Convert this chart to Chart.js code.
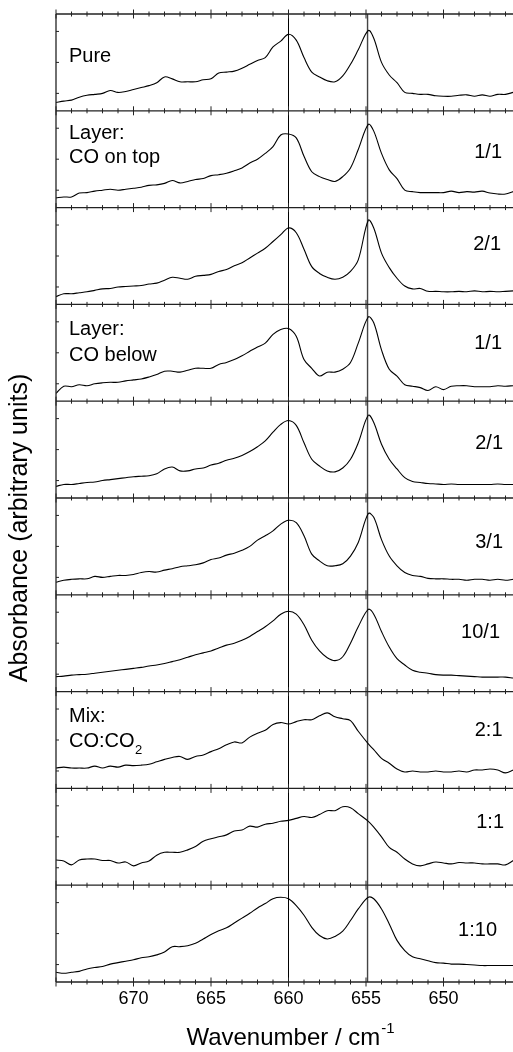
<!DOCTYPE html>
<html><head><meta charset="utf-8">
<script src="https://cdn.jsdelivr.net/npm/chart.js@4"></script>
<style>
html,body{margin:0;padding:0;background:#fff;overflow:hidden;width:513px;height:1052px}
#wrap{position:absolute;left:0;top:0;width:540px;height:1052px}
</style></head>
<body><div id="wrap"><canvas id="c" width="540" height="1052"></canvas></div>
<script>
// wavenumbers (cm^-1), reversed axis
const wavenumbers = [675,674.5,674,673.5,673,672.5,672,671.5,671,670.5,670,669.5,669,668.5,668,667.5,667,666.5,666,665.5,665,664.5,664,663.5,663,662.5,662,661.5,661,660.5,660,659.5,659,658.5,658,657.5,657,656.5,656,655.5,654.85,654.5,654,653.5,653,652.5,652,651.5,651,650.5,650,649.5,649,648.5,648,647.5,647,646.5,646,645.5];

const pure = [.086,.10,.11,.14,.16,.17,.18,.21,.19,.20,.22,.24,.26,.29,.35,.33,.30,.30,.30,.32,.33,.39,.40,.41,.44,.48,.52,.55,.66,.72,.79,.73,.55,.40,.35,.31,.30,.36,.48,.63,.83,.75,.50,.37,.29,.19,.18,.17,.17,.155,.15,.15,.16,.165,.15,.165,.15,.17,.17,.19];
const layerTop11 = [.10,.11,.11,.15,.155,.17,.18,.19,.18,.19,.20,.21,.23,.235,.25,.28,.255,.27,.29,.30,.33,.34,.355,.38,.41,.46,.50,.56,.63,.75,.76,.72,.53,.37,.32,.29,.27,.32,.41,.60,.86,.79,.56,.39,.30,.18,.165,.155,.155,.155,.155,.17,.155,.165,.16,.17,.15,.14,.14,.165];
const layerTop21 = [.08,.11,.11,.12,.13,.145,.16,.165,.18,.185,.19,.195,.21,.22,.25,.28,.27,.26,.29,.30,.31,.34,.36,.40,.43,.48,.53,.58,.65,.72,.79,.74,.57,.39,.32,.28,.26,.28,.34,.46,.87,.79,.53,.38,.27,.19,.16,.165,.135,.135,.13,.13,.135,.13,.14,.13,.135,.13,.135,.14];
const layerBelow11 = [.08,.155,.15,.17,.16,.18,.19,.195,.195,.21,.22,.23,.25,.275,.31,.31,.30,.32,.34,.34,.34,.38,.40,.43,.47,.515,.56,.60,.69,.74,.75,.67,.43,.34,.26,.30,.30,.33,.40,.60,.87,.81,.53,.33,.26,.17,.155,.14,.11,.15,.12,.155,.16,.16,.15,.15,.15,.16,.155,.16];
const layerBelow21 = [.12,.14,.14,.15,.16,.165,.18,.19,.20,.21,.22,.225,.23,.25,.30,.32,.28,.28,.30,.31,.34,.36,.39,.41,.44,.48,.53,.59,.68,.76,.80,.75,.57,.40,.33,.28,.27,.31,.40,.57,.855,.78,.555,.40,.30,.21,.17,.16,.15,.145,.14,.145,.14,.14,.14,.14,.14,.145,.14,.14];
const layerBelow31 = [.13,.15,.16,.165,.165,.19,.18,.19,.20,.20,.21,.23,.24,.235,.255,.27,.29,.30,.31,.33,.365,.38,.41,.43,.46,.50,.565,.61,.66,.73,.77,.745,.61,.42,.35,.30,.30,.32,.40,.54,.84,.80,.57,.40,.30,.23,.20,.19,.17,.165,.165,.16,.16,.15,.16,.16,.15,.16,.15,.16];
const layerBelow101 = [.155,.16,.17,.175,.18,.19,.20,.21,.22,.23,.24,.25,.265,.275,.29,.31,.33,.355,.38,.40,.42,.45,.48,.50,.53,.57,.62,.67,.73,.80,.83,.80,.69,.53,.42,.35,.32,.36,.50,.67,.85,.80,.62,.46,.34,.275,.22,.20,.19,.175,.17,.17,.165,.16,.155,.15,.15,.15,.15,.14];
const mix21 = [.21,.22,.21,.21,.21,.23,.21,.23,.22,.24,.235,.24,.25,.275,.30,.32,.33,.30,.33,.345,.38,.41,.45,.48,.47,.53,.57,.60,.66,.68,.665,.69,.71,.71,.75,.78,.74,.72,.70,.59,.46,.40,.31,.26,.20,.17,.18,.17,.17,.18,.17,.17,.18,.17,.19,.19,.20,.19,.16,.19];
const mix11 = [.26,.25,.21,.26,.27,.27,.255,.255,.23,.24,.20,.23,.25,.31,.34,.34,.34,.365,.40,.455,.48,.50,.52,.56,.57,.61,.60,.63,.64,.66,.67,.69,.71,.70,.73,.77,.77,.81,.80,.74,.66,.60,.50,.39,.34,.27,.22,.20,.22,.24,.23,.22,.235,.23,.23,.22,.22,.22,.21,.255];
const mix110 = [.10,.09,.10,.11,.135,.15,.16,.185,.20,.215,.23,.25,.26,.28,.31,.365,.365,.375,.40,.445,.49,.53,.56,.61,.66,.71,.765,.81,.86,.875,.86,.79,.69,.565,.48,.445,.47,.525,.635,.755,.875,.86,.755,.60,.43,.325,.26,.24,.22,.20,.195,.185,.185,.18,.175,.17,.17,.17,.17,.17];

const seriesList = [pure, layerTop11, layerTop21, layerBelow11, layerBelow21, layerBelow31, layerBelow101, mix21, mix11, mix110];
const leftLabels = [["Pure"],["Layer:","CO on top"],[],["Layer:","CO below"],[],[],[],["Mix:","CO:CO|2"],[],[]];
const rightLabels = ["","1/1","2/1","1/1","2/1","3/1","10/1","2:1","1:1","1:10"];
const xTickLabels = [670,665,660,655,650];
const markerLines = [660, 654.9];

// layout for text (pixel offsets from panel top)
const leftDy = [[47.7],[28,52.5],[],[31,56.7],[],[],[],[30.7,55.7],[],[]];
const rightDy = [0,47.5,42,44.3,47.5,49.7,43.5,44,40,50.5];
const rightX = [0,502,501,502,503,503,500,502.5,504,497];

const N = seriesList.length;
const datasets = seriesList.map((s, p) => ({
  data: wavenumbers.map((w, i) => ({x: w, y: s[i] + (N - 1 - p)})),
  borderColor: '#000', borderWidth: 1.1, pointRadius: 0, tension: 0.35, fill: false
}));

const FONT = '"Liberation Sans", Arial, sans-serif';

const deco = {
  id: 'deco',
  beforeDatasetsDraw(chart) {
    const {ctx, chartArea: a, scales: {x}} = chart;
    ctx.save();
    markerLines.forEach((w, i) => {
      const px = x.getPixelForValue(w);
      ctx.strokeStyle = i === 0 ? '#000' : '#444';
      ctx.lineWidth = i === 0 ? 1 : 1.4;
      ctx.beginPath(); ctx.moveTo(px, a.top); ctx.lineTo(px, a.bottom); ctx.stroke();
    });
    ctx.restore();
  },
  afterDatasetsDraw(chart) {
    const {ctx, chartArea: a, scales: {x, y}} = chart;
    ctx.save();
    ctx.strokeStyle = '#222'; ctx.lineWidth = 1.3;
    for (let j = 0; j <= N; j++) {
      const py = y.getPixelForValue(j);
      ctx.beginPath(); ctx.moveTo(a.left, py); ctx.lineTo(a.right, py); ctx.stroke();
    }
    ctx.beginPath(); ctx.moveTo(a.left, a.top); ctx.lineTo(a.left, a.bottom); ctx.stroke();
    ctx.beginPath(); ctx.moveTo(a.right, a.top); ctx.lineTo(a.right, a.bottom); ctx.stroke();
    ctx.lineWidth = 1;
    for (let w = 645; w <= 675; w++) {
      const px = x.getPixelForValue(w);
      const len = (w % 5 === 0) ? 4.5 : 2.5;
      for (let j = 0; j <= N; j++) {
        const py = y.getPixelForValue(j);
        ctx.beginPath(); ctx.moveTo(px, py - len); ctx.lineTo(px, py + len); ctx.stroke();
      }
    }
    for (let j = 0; j < N; j++) {
      [0.18, 0.5, 0.82].forEach(f => {
        const py = y.getPixelForValue(j + f);
        ctx.beginPath(); ctx.moveTo(a.left, py); ctx.lineTo(a.left + 3, py); ctx.stroke();
      });
    }
    ctx.fillStyle = '#000';
    ctx.textBaseline = 'alphabetic';
    for (let p = 0; p < N; p++) {
      const top = y.getPixelForValue(N - p);
      leftLabels[p].forEach((t, k) => {
        ctx.font = '20px ' + FONT; ctx.textAlign = 'left';
        const parts = t.split('|');
        const bx = a.left + 13, by = top + leftDy[p][k];
        ctx.fillText(parts[0], bx, by);
        if (parts[1]) {
          const wd = ctx.measureText(parts[0]).width;
          ctx.font = '13px ' + FONT;
          ctx.fillText(parts[1], bx + wd + 0.5, by + 7);
        }
      });
      if (rightLabels[p]) {
        ctx.font = '20px ' + FONT; ctx.textAlign = 'right';
        ctx.fillText(rightLabels[p], rightX[p], top + rightDy[p]);
      }
    }
    ctx.font = '24px ' + FONT; ctx.textAlign = 'left';
    const main = 'Wavenumber / cm', sup = '-1';
    const mw = ctx.measureText(main).width;
    ctx.font = '15px ' + FONT;
    const sw = ctx.measureText(sup).width;
    const sx = 290 - (mw + sw) / 2;
    ctx.font = '24px ' + FONT;
    ctx.fillText(main, sx, 1045);
    ctx.font = '15px ' + FONT;
    ctx.fillText(sup, sx + mw + 1, 1033);
    ctx.save();
    ctx.translate(27, 528);
    ctx.rotate(-Math.PI / 2);
    ctx.font = '25px ' + FONT; ctx.textAlign = 'center';
    ctx.fillText('Absorbance (arbitrary units)', 0, 0);
    ctx.restore();
    ctx.restore();
  }
};

new Chart(document.getElementById('c'), {
  type: 'line',
  data: { datasets },
  options: {
    responsive: false, animation: false,
    layout: { padding: { left: 56, top: 14, right: 19, bottom: 0 } },
    plugins: { legend: { display: false }, tooltip: { enabled: false } },
    scales: {
      x: {
        type: 'linear', reverse: true, min: 645, max: 675,
        grid: { display: false, drawTicks: false }, border: { display: false },
        afterFit: s => { s.height = 70; },
        ticks: {
          stepSize: 5, padding: 6, color: '#000', maxRotation: 0, autoSkip: false,
          font: { family: FONT, size: 18 },
          callback: v => xTickLabels.includes(v) ? String(v) : ''
        }
      },
      y: { type: 'linear', min: 0, max: N, display: false }
    }
  },
  plugins: [deco]
});
</script>
</body></html>
